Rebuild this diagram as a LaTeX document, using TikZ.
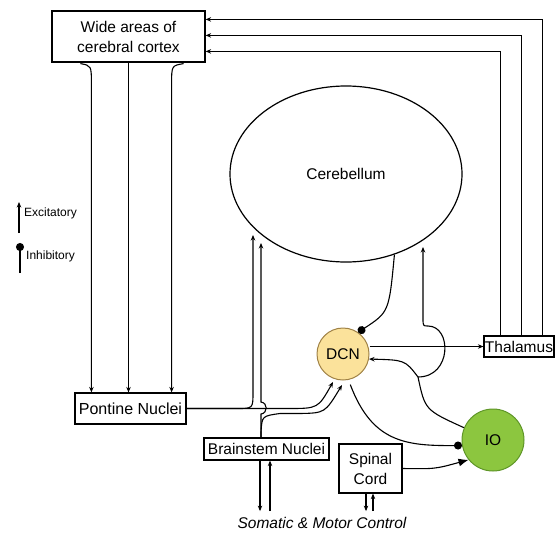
\documentclass[tikz,border=0pt]{standalone}
\usepackage{fontspec}
\setmainfont{Liberation Sans}
\usetikzlibrary{shapes.geometric, arrows.meta, calc}

\definecolor{dcnfill}{RGB}{251,226,155}
\definecolor{dcnline}{RGB}{160,130,70}
\definecolor{iofill}{RGB}{140,198,63}
\definecolor{ioline}{RGB}{95,150,40}

\tikzstyle{element}=[rectangle, draw, line width=1.2pt, inner sep=0pt,
                     align=center, font=\fontsize{15.5}{20}\selectfont]
\tikzstyle{nucleus}=[circle, draw, line width=1pt, inner sep=0pt,
                     font=\fontsize{15.5}{18}\selectfont]
\tikzstyle{legend}=[inner sep=0pt, font=\fontsize{12}{14}\selectfont]
\tikzstyle{exc}=[-{Stealth[length=5.5pt, width=4.5pt]}, line width=1.1pt]
\tikzstyle{inh}=[-{Circle[length=8pt]}, line width=1.1pt]

\begin{document}
\begin{tikzpicture}[x=1pt, y=-1pt]
  \useasboundingbox (0, 0) rectangle (556, 533);

  \node (Cortex) at (128.5, 36.5) [element, minimum width=153pt,
        minimum height=51pt] {Wide areas of\\cerebral cortex};

  \node (Cerebellum) at (346, 174) [ellipse, draw, line width=1.2pt,
        inner sep=0pt, minimum width=232pt, minimum height=176pt,
        font=\fontsize{15.5}{18}\selectfont] {Cerebellum};

  \node (Pontine) at (130.5, 408.5) [element, minimum width=111pt,
        minimum height=31pt, font=\fontsize{16}{20}\selectfont] {Pontine Nuclei};
  \node (Brainstem) at (266.5, 449) [element, minimum width=125pt,
        minimum height=22pt] {Brainstem Nuclei};
  \node (Spinal) at (370.5, 468.5) [element, minimum width=63pt,
        minimum height=49pt] {Spinal\\Cord};
  \node (Thalamus) at (519, 346.5) [element, minimum width=70pt,
        minimum height=21pt] {Thalamus};

  \node (DCN) at (343, 354) [nucleus, minimum size=52pt,
        fill=dcnfill, draw=dcnline] {DCN};
  \node (IO) at (493, 440) [nucleus, minimum size=62pt,
        fill=iofill, draw=ioline] {IO};

  \node (Somatic) at (322, 523) [inner xsep=0pt, inner ysep=6pt,
        font=\fontsize{15.5}{18}\selectfont\itshape] {Somatic \& Motor Control};

  % thalamus back to cortex
  \foreach \dx/\dy in {17/41, 38/25, 59/9}
    \draw [exc] ($(Thalamus.north west)+(\dx, 0)$) |- ($(Cortex.north east)+(0, \dy)$);

  % cortex down to pontine nuclei
  \coordinate (CtxL) at ($(Cortex.south west)+(40, 0)$);
  \coordinate (CtxR) at ($(Cortex.south east)+(-34, 0)$);
  \draw [exc] ($(Cortex.south west)+(29, 1)$)
        .. controls ($(CtxL)+(0, 3)$) .. ($(CtxL)+(0, 22)$)
        -- (CtxL |- Pontine.north);
  \draw [exc] (Cortex.south) -- (Cortex.south |- Pontine.north);
  \draw [exc] ($(Cortex.south east)+(-22, 1)$)
        .. controls ($(CtxR)+(0, 3)$) .. ($(CtxR)+(0, 22)$)
        -- (CtxR |- Pontine.north);

  % pontine nuclei
  \coordinate (PonCb) at (253, 235);
  \draw [exc] (Pontine.east) -- (237, 408.5) .. controls (253, 408.5) .. (253, 392) -- (PonCb);
  \draw [exc] (Pontine.east) -- (288, 408.5) .. controls (318, 408.5) .. (333, 382);

  % brainstem nuclei
  \coordinate (BsCb) at (261, 243);
  \draw [exc] ([xshift=-5.5pt]Brainstem.north) -- (261, 414)
        .. controls (268, 413) and (268, 403) .. (261, 402) -- (BsCb);
  \draw [exc] ([xshift=-5.5pt]Brainstem.north) -- (261, 432)
        .. controls (262, 416) .. (280, 413.5) -- (300, 413.5)
        .. controls (325, 413) .. (342, 385);

  % cerebellum -| DCN
  \draw [inh] (Cerebellum.-59) .. controls (389, 312) .. (DCN.55);

  % DCN
  \draw [exc] (DCN.east |- Thalamus.west) -- (Thalamus.west);
  \draw [inh, shorten <=5pt] (DCN.-78) .. controls (372, 442) and (405, 446) .. (IO.190);

  % inferior olive
  \coordinate (Split) at (418, 377);
  \coordinate (IOCb) at (423, 247);
  \draw [line width=1.1pt] (IO.157) .. controls (425, 410) .. (Split);
  \draw [exc] (Split) .. controls (405, 360) .. (DCN.-11);
  \draw [exc] (Split) .. controls (452, 377) and (452, 326) .. (428, 326)
        .. controls (423, 326) .. (423, 318) -- (IOCb);

  % spinal cord
  \draw [-{Latex[length=10pt, width=8pt]}, line width=1.1pt]
        (Spinal.east) .. controls (435, 469) .. (IO.219);

  % somatic & motor control
  \draw [exc] ([xshift=-6.5pt]Brainstem.south) -- ([xshift=-6.5pt]Brainstem.south |- Somatic.north);
  \draw [exc] ([xshift=3.5pt]Brainstem.south |- Somatic.north) -- ([xshift=3.5pt]Brainstem.south);
  \draw [exc] ([xshift=-4.5pt]Spinal.south) -- ([xshift=-4.5pt]Spinal.south |- Somatic.north);
  \draw [exc] ([xshift=2.5pt]Spinal.south |- Somatic.north) -- ([xshift=2.5pt]Spinal.south);

  %%%%%%%%%%%%%%%%%%%%%%%%%%%%%%
  % legends
  \node (leg_exc) at (24, 213) [legend, anchor=west] {Excitatory};
  \node (leg_inh) at (26, 256) [legend, anchor=west] {Inhibitory};
  \coordinate (leg_exc_a) at (19, 233);
  \coordinate (leg_exc_b) at (19, 202);
  \coordinate (leg_inh_a) at (20, 273);
  \coordinate (leg_inh_b) at (20, 243);
  \draw [exc] (leg_exc_a) -- (leg_exc_b);
  \draw [inh] (leg_inh_a) -- (leg_inh_b);

\end{tikzpicture}
\end{document}
